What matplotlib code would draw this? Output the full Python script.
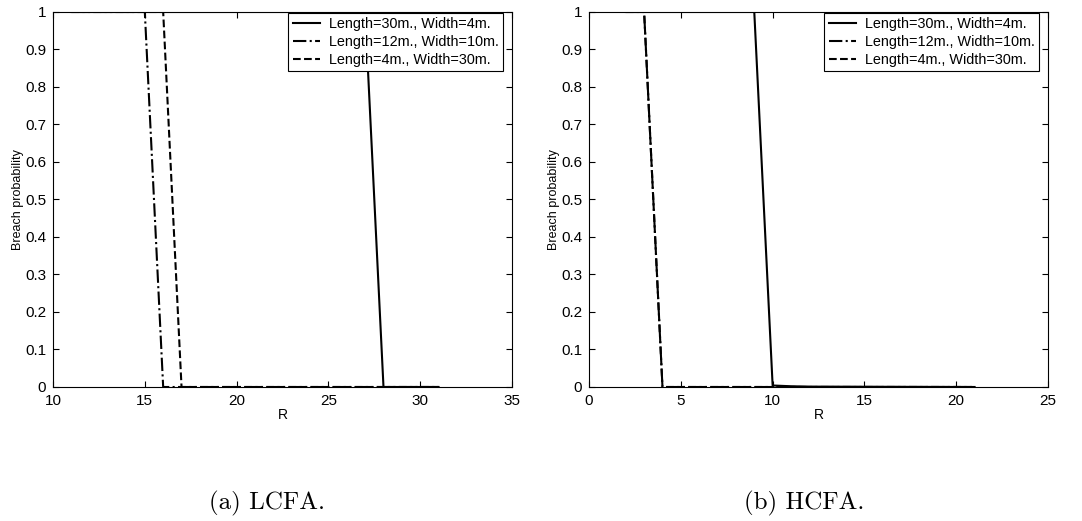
import numpy as np
import matplotlib
matplotlib.use("Agg")
import matplotlib.pyplot as plt

plt.rcParams['font.family'] = ['Liberation Sans', 'DejaVu Sans']

labels = ['Length=30m., Width=4m.', 'Length=12m., Width=10m.', 'Length=4m., Width=30m.']
styles = ['-', '-.', '--']

# (a) LCFA
r_lcfa = [11, 15, 16, 17, 27, 28, 31]
p_lcfa = [
    [1, 1, 1, 1, 1, 0, 0],
    [1, 1, 0, 0, 0, 0, 0],
    [1, 1, 1, 0, 0, 0, 0],
]

# (b) HCFA
r_hcfa = [2, 3, 4, 9, 10, 11, 12, 21]
p_hcfa = [
    [1, 1, 1, 1, 0.004, 0.002, 0.001, 0],
    [1, 1, 0, 0, 0, 0, 0, 0],
    [1, 1, 0, 0, 0, 0, 0, 0],
]


def panel(ax, r, ps, xlim, xticks):
    for p, ls, lab in zip(ps, styles, labels):
        ax.plot(r, p, ls, color='black', lw=1.5, label=lab)
    ax.set_xlim(*xlim)
    ax.set_ylim(0, 1)
    ax.set_xticks(xticks)
    ax.set_yticks(np.arange(0, 1.01, 0.1))
    ax.set_yticklabels(['0', '0.1', '0.2', '0.3', '0.4', '0.5', '0.6', '0.7', '0.8', '0.9', '1'])
    ax.tick_params(direction='in', top=True, right=True, labelsize=11, length=4)
    ax.tick_params(axis='x', pad=5)
    ax.tick_params(axis='y', pad=5)
    ax.set_xlabel('R', fontsize=10, labelpad=0)
    ax.set_ylabel('Breach probability', fontsize=9, labelpad=1)
    leg = ax.legend(loc='upper right', bbox_to_anchor=(0.980, 0.997), fontsize=10.4,
                    fancybox=False, framealpha=1, edgecolor='black', borderaxespad=0,
                    handlelength=1.9, labelspacing=0.25, borderpad=0.3, handletextpad=0.6)
    leg.get_frame().set_linewidth(0.8)


fig = plt.figure(figsize=(10.82, 5.21), dpi=100)
ax1 = fig.add_axes([0.049, 0.2572, 0.4242, 0.7198])
ax2 = fig.add_axes([0.5444, 0.2572, 0.4242, 0.7198])
panel(ax1, r_lcfa, p_lcfa, (10, 35), [10, 15, 20, 25, 30, 35])
panel(ax2, r_hcfa, p_hcfa, (0, 25), [0, 5, 10, 15, 20, 25])

fig.text(267 / 1082, 1 - 503 / 521, '(a) LCFA.', family='cmr10', fontsize=18,
         ha='center', va='center')
fig.text(804 / 1082, 1 - 503 / 521, '(b) HCFA.', family='cmr10', fontsize=18,
         ha='center', va='center')

fig.savefig('out.png', dpi=100)
